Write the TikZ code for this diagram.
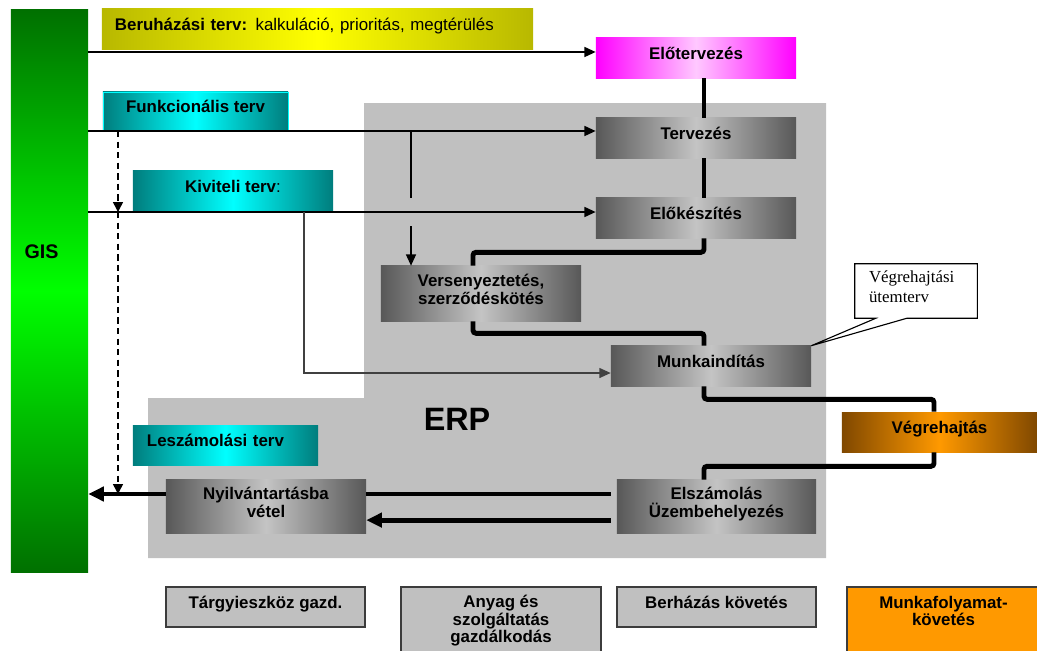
\documentclass[tikz,border=0pt]{standalone}
\usepackage{fontspec}
\setmainfont{Liberation Sans}
\newfontfamily\notefont{Liberation Serif}
\usetikzlibrary{arrows.meta,calc}

\definecolor{gisdark}{RGB}{0,112,0}
\definecolor{gislight}{RGB}{0,255,0}
\definecolor{olivedark}{RGB}{184,184,0}
\definecolor{yellowlight}{RGB}{255,255,0}
\definecolor{tealdark}{RGB}{0,125,125}
\definecolor{cyanlight}{RGB}{0,255,255}
\definecolor{magentadark}{RGB}{255,0,255}
\definecolor{magentalight}{RGB}{255,200,255}
\definecolor{procdark}{RGB}{88,88,88}
\definecolor{proclight}{RGB}{196,196,196}
\definecolor{browndark}{RGB}{128,72,0}
\definecolor{orangelight}{RGB}{255,153,0}
\definecolor{erpgray}{RGB}{192,192,192}
\definecolor{boxedge}{RGB}{60,60,60}
\definecolor{branchgray}{RGB}{64,64,64}

% depth strut that lifts the text a little inside its box
\newcommand{\boxlift}[1][7pt]{\rule[-#1]{0pt}{#1}}

\begin{document}
\begin{tikzpicture}[x=0.025cm, y=-0.025cm,
  every node/.style={font=\fontsize{12}{12.5}\selectfont\bfseries, align=center, inner sep=0pt},
  gradbox/.style 2 args={left color=#1, right color=#1, middle color=#2, minimum width=5cm, minimum height=1cm},
  procbox/.style={gradbox={procdark}{proclight}},
  planbox/.style={gradbox={tealdark}{cyanlight}},
  plainbox/.style={fill=erpgray, draw=boxedge, line width=1.1pt, minimum width=4.975cm, minimum height=1cm},
  note/.style={font=\notefont\fontsize{12}{14}\selectfont, align=left, text width=2.35cm, inner xsep=0.35cm, minimum height=1.35cm},
  flow/.style={line width=3.5pt, rounded corners=0.075cm},
  bigflow/.style={line width=3.5pt, -{Triangle[length=11pt,width=10pt]}},
  feed/.style={line width=1.4pt, -{Triangle[length=8pt,width=7pt]}},
  branch/.style={line width=1pt},
  guide/.style={line width=1.1pt, dash pattern=on 4.5pt off 3pt, -{Triangle[length=7pt,width=7pt]}}
]
\useasboundingbox (0,0) rectangle (1037,650);

% ERP area
\fill[erpgray] (364,103) -- (826,103) -- (826,558) -- (148,558) -- (148,398) -- (364,398) -- cycle;
\node[font=\fontsize{23}{25}\selectfont\bfseries] (erp) at (457,419) {ERP};

% GIS
\node[top color=gisdark, bottom color=gisdark, middle color=gislight, minimum width=1.925cm, minimum height=14.05cm, font=\fontsize{14}{16}\selectfont\bfseries] (gis) at (49.5,291) {GIS\hspace*{0.4cm}\boxlift[56pt]};

% plans
\node[gradbox={olivedark}{yellowlight}, text width=10.125cm, inner xsep=0.325cm, align=left] (beruh) at (317.5,29) {Beruházási terv:\mdseries{} kalkuláció, prioritás, megtérülés\boxlift};
\node[planbox, draw=cyanlight, line width=0.6pt, minimum width=4.625cm, minimum height=0.975cm] (funk) at (195.5,111.5) {Funkcionális terv\boxlift};
\node[planbox] (kivit) at (233,191) {Kiviteli terv{\mdseries :}\boxlift};
\node[planbox, minimum width=4.625cm, text width=3.925cm, inner xsep=0.35cm, align=left] (leszam) at (225.5,445) {Leszámolási terv\boxlift};

% workflow steps
\node[gradbox={magentadark}{magentalight}] (eloterv) at (696,58) {Előtervezés\boxlift};
\node[procbox] (tervezes) at (696,138) {Tervezés\boxlift};
\node[procbox] (elokesz) at (696,218) {Előkészítés\boxlift};
\node[procbox, minimum height=1.375cm] (verseny) at (481,293.5) {Versenyeztetés,\\szerződéskötés\boxlift[6pt]};
\node[procbox] (munka) at (711,366) {Munkaindítás\boxlift};
\node[gradbox={browndark}{orangelight}, minimum width=4.875cm] (vegreh) at (939.5,432) {Végrehajtás\boxlift};
\node[procbox, minimum width=4.975cm, minimum height=1.325cm] (elszam) at (716.5,506.5) {Elszámolás\\Üzembehelyezés\boxlift[6pt]};
\node[procbox, minimum height=1.325cm] (nyilv) at (266,506.5) {Nyilvántartásba\\vétel\boxlift[6pt]};

\node[note] (utem) at (916,291) {Végrehajtási\\ütemterv\boxlift[6pt]};

% modules
\node[plainbox] (targy) at (265.5,607) {Tárgyieszköz gazd.\boxlift};
\node[plainbox, minimum width=5cm, minimum height=2cm] (anyag) at (501,627) {Anyag és\\szolgáltatás\\gazdálkodás\boxlift[11.5pt]};
\node[plainbox] (berhaz) at (716.5,607) {Berházás követés\boxlift};
\node[plainbox, fill=orangelight, minimum width=4.825cm, minimum height=2cm] (munkaf) at (943.5,627) {Munkafolyamat-\\követés\boxlift[23pt]};

\coordinate (spine) at (704,0);
\coordinate (vspine) at (473,0);
\coordinate (rspine) at (934,0);
\coordinate (inA) at ([yshift=0.15cm]eloterv.west);
\coordinate (inB) at ([yshift=0.175cm]tervezes.west);
\coordinate (inC) at ([yshift=0.15cm]elokesz.west);
\coordinate (inD) at ([yshift=-0.175cm]munka.west);
\coordinate (outA) at ([yshift=0.3125cm]elszam.west);
\coordinate (outB) at ([yshift=-0.34cm]elszam.west);
\coordinate (fsplit) at (411,131);
\coordinate (ksplit) at (304,212);
\coordinate (dtop) at (118,131);

% plans feeding the steps
\draw[feed] (gis.east |- inA) -- (inA);
\draw[feed] (gis.east |- inB) -- (inB);
\draw[feed] (gis.east |- inC) -- (inC);
\draw[branch] (fsplit) -- ++(0,67);
\draw[branch, line width=1.2pt, -{Triangle[length=8pt,width=7pt]}] ($(fsplit |- inC)+(0,14)$) -- (verseny.north -| fsplit);
\draw[branch, draw=branchgray, -{Triangle[length=8pt,width=7pt]}] (ksplit) |- (inD);
\draw[guide] (dtop) -- (dtop |- inC);
\draw[guide] (dtop |- inC) -- (dtop |- outA);

% main flow
\draw[flow] (eloterv.south -| spine) -- (tervezes.north -| spine);
\draw[flow] (tervezes.south -| spine) -- (elokesz.north -| spine);
\draw[flow] (elokesz.south -| spine) -- ++(0,14) -| (verseny.north -| vspine);
\draw[flow] (verseny.south -| vspine) -- ++(0,12) -| (munka.north -| spine);
\draw[flow] (munka.south -| spine) -- ++(0,13) -| (vegreh.north -| rspine);
\draw[flow] (vegreh.south -| rspine) -- ++(0,14) -| (elszam.north -| spine);
\draw[flow, shorten <=0.15cm] (outA) -- (outA -| nyilv.east);
\draw[bigflow] (outA -| nyilv.west) -- (outA -| gis.east);
\draw[bigflow, shorten <=0.15cm] (outB) -- (outB -| nyilv.east);

% callout
\draw[line width=0.8pt] (utem.south west) -- (utem.north west) -- (utem.north east) -- (utem.south east) -- ($(utem.south west)+(52,0)$) -- (munka.north east) -- ($(utem.south west)+(21,0)$) -- cycle;
\end{tikzpicture}
\end{document}
